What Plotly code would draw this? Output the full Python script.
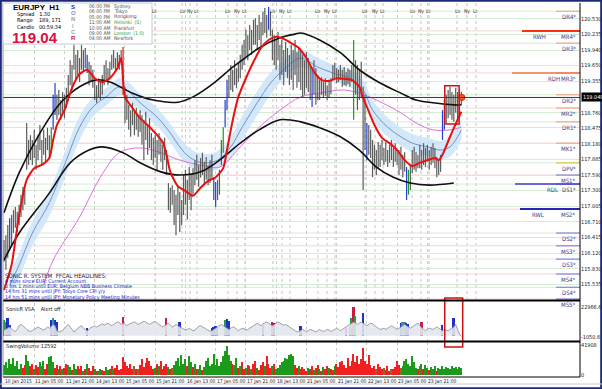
import plotly.graph_objects as go

# ---------------- DATA ----------------
bar_high = [
116.37,116.46,116.65,116.78,116.84,116.93,116.99,116.90,117.03,117.22,
117.37,117.31,118.57,118.25,118.34,118.25,118.44,118.16,118.34,118.53,
118.25,118.44,118.29,118.48,118.34,118.49,119.10,119.32,119.10,119.19,
119.00,119.15,119.10,119.23,119.47,119.75,119.66,120.04,119.85,119.94,
119.79,120.04,119.94,119.98,119.85,119.72,119.66,119.57,119.38,119.28,
119.41,119.34,119.47,119.66,119.75,119.60,119.72,119.85,119.94,119.79,
119.90,119.85,119.94,120.00,119.25,119.10,118.91,118.81,118.95,118.78,
118.85,118.72,118.81,118.72,118.63,118.78,118.53,118.66,118.38,118.29,
118.34,118.25,118.38,118.25,118.16,118.29,118.06,117.44,117.35,117.40,
117.31,117.22,117.37,117.27,117.12,117.59,117.69,117.50,117.74,117.59,
117.72,117.87,117.97,117.78,117.91,118.01,117.84,117.93,117.78,117.87,
117.97,117.55,117.46,117.50,117.69,118.25,118.49,119.00,119.38,119.47,
119.66,119.57,119.75,119.60,119.72,119.85,120.04,120.13,120.32,120.22,
120.41,120.32,120.51,120.54,120.41,120.60,120.47,120.66,120.73,120.60,
120.75,120.66,120.32,120.22,120.13,120.28,120.04,120.13,119.94,120.09,
119.98,119.85,120.04,119.94,120.13,119.90,119.98,119.94,119.85,119.75,
119.90,119.79,119.66,119.57,119.75,119.60,119.47,119.38,119.43,119.34,
119.41,119.28,119.38,119.41,119.66,119.70,119.60,119.57,119.66,119.57,
119.62,119.53,119.60,119.57,119.66,120.13,119.75,119.66,119.57,119.72,
119.25,119.10,118.57,118.53,118.44,118.25,118.16,118.06,118.21,118.16,
118.25,118.10,118.21,118.06,118.16,118.25,118.10,118.19,118.06,118.06,
118.12,117.97,118.02,117.74,117.69,117.78,118.06,118.12,118.02,117.97,
118.16,118.06,118.19,118.10,118.16,118.06,118.12,118.19,118.10,117.93,
117.87,117.97,118.81,119.00,119.10,119.19,119.25,119.15,119.10,119.23,
119.15,119.19,119.15]
bar_low = [
115.96,115.81,116.03,116.18,116.28,116.50,116.60,116.52,116.65,116.80,
116.93,117.03,117.69,117.78,117.87,117.78,117.91,117.69,117.87,118.06,
117.78,117.97,117.84,118.06,117.91,118.01,118.44,118.72,118.63,118.72,
118.63,118.78,118.66,118.85,119.10,119.28,119.19,119.57,119.38,119.47,
119.34,119.57,119.53,119.60,119.51,119.28,119.34,119.23,119.00,118.95,
119.04,119.00,119.10,119.28,119.38,119.28,119.41,119.57,119.60,119.53,
119.64,119.57,119.66,119.10,118.57,118.63,118.44,118.31,118.53,118.34,
118.44,118.31,118.40,118.16,117.87,118.25,117.97,118.10,117.87,117.78,
117.91,117.69,117.97,117.84,117.69,117.87,117.59,116.93,116.88,117.03,
116.65,116.46,116.84,116.52,116.65,116.84,117.03,116.75,117.12,116.93,
117.22,117.40,117.50,117.37,117.54,117.59,117.40,117.50,117.40,117.44,
117.54,117.12,116.99,117.12,117.22,117.78,118.01,118.49,118.81,119.06,
119.19,119.15,119.28,119.23,119.34,119.41,119.57,119.66,119.79,119.75,
119.94,119.85,120.04,120.04,119.94,120.13,119.98,120.22,120.26,120.17,
120.32,120.20,119.75,119.66,119.57,119.75,119.38,119.47,119.28,119.53,
119.41,119.28,119.38,119.19,119.47,119.23,119.34,119.19,119.06,119.10,
119.23,119.15,119.00,118.87,119.10,118.91,119.00,119.00,119.10,119.04,
119.08,119.00,119.06,119.11,119.38,119.41,119.32,119.34,119.38,119.25,
119.28,119.26,119.30,119.25,119.34,118.63,119.10,118.81,119.00,119.04,
117.31,118.06,117.87,117.97,117.91,117.55,117.69,117.59,117.72,117.74,
117.87,117.78,117.84,117.74,117.82,117.87,117.74,117.84,117.78,117.59,
117.69,117.55,117.65,117.12,117.22,117.31,117.63,117.69,117.65,117.72,
117.72,117.69,117.78,117.74,117.84,117.69,117.78,117.82,117.72,117.55,
117.59,117.65,118.25,118.44,118.57,118.66,118.72,118.63,118.59,118.76,
118.63,118.72,118.91]
blue_bars = [3, 26, 27, 44, 111, 112, 117, 118, 140, 163, 192, 213, 232, 233]
green_bars = [25, 116, 185, 214]
red_bars = [63]
last_price = 119.049

# indicator lines (bar index, price)
red_x = [0,4,8,12,16,20,24,26,28,32,36,40,44,48,52,56,60,62,63,64,68,72,76,80,84,86,88,92,96,100,
         104,108,112,116,118,120,122,124,128,132,136,140,144,148,152,156,160,164,168,172,176,180,184,188,190,192,196,200,204,208,
         212,216,220,224,228,230,232,236,240,242]
red_y = [115.43,115.90,116.84,117.50,117.72,117.78,117.91,118.25,118.53,118.81,119.23,119.49,119.57,119.41,119.34,119.41,119.60,119.79,119.38,119.06,
         118.85,118.66,118.53,118.38,118.21,117.97,117.65,117.38,117.29,117.20,117.35,117.48,117.55,117.72,118.06,118.44,118.78,119.06,119.41,119.72,
         119.98,120.13,120.19,120.15,120.07,119.98,119.79,119.53,119.38,119.36,119.41,119.40,119.38,119.25,119.04,118.87,118.53,118.29,118.19,118.06,
         117.87,117.76,117.82,117.87,117.91,117.87,117.97,118.31,118.63,118.78]
blue_x = [3,8,15,24,33,40,47,54,61,65,72,81,88,93,98,105,113,120,126,134,141,148,157,166,174,183,190,195,203,210,216,224,231,236,240,242]
blue_y = [115.52,115.90,116.50,117.07,117.87,118.49,118.87,119.06,119.25,119.19,118.95,118.68,118.38,118.12,117.93,117.82,117.87,118.12,118.49,118.95,
          119.32,119.57,119.79,119.62,119.51,119.41,119.19,118.81,118.49,118.31,118.19,118.12,118.06,118.12,118.31,118.44]
band_hi = [115.75,116.12,116.72,117.30,118.10,118.70,119.05,119.22,119.41,119.36,119.12,118.85,118.55,118.30,118.10,117.99,118.04,118.30,118.70,119.17,
           119.52,119.75,119.95,119.79,119.67,119.57,119.37,119.00,118.67,118.48,118.36,118.29,118.23,118.30,118.50,118.62]
band_lo = [115.29,115.66,116.26,116.82,117.62,118.25,118.68,118.90,119.09,119.03,118.78,118.51,118.21,117.94,117.76,117.65,117.70,117.92,118.26,118.71,
           119.10,119.39,119.63,119.45,119.35,119.25,119.01,118.62,118.31,118.14,118.02,117.95,117.89,117.94,118.12,118.26]
mag_x = [21,26,40,51,61,72,82,93,104,114,125,135,146,157,167,179,188,200,210,218,227,236,242]
mag_y = [115.52,115.99,116.80,117.55,118.01,118.10,118.02,117.87,117.78,117.74,118.12,118.49,118.81,119.06,119.13,119.19,119.13,118.95,118.76,118.57,
         118.44,118.44,118.49]
ub_x = [0,8,19,30,40,49,56,68,79,92,100,111,121,126,135,146,154,157,167,178,188,199,210,218,227,238,242]
ub_y = [116.88,117.63,118.38,118.95,119.25,119.38,119.34,119.13,119.00,118.96,119.06,119.32,119.62,119.75,119.98,120.17,120.24,120.26,120.13,119.89,
        119.57,119.32,119.13,119.00,118.95,118.91,118.91]
lb_x = [0,8,24,35,45,52,63,72,83,93,104,114,125,135,146,157,167,178,188,197,206,215,225,238]
lb_y = [115.99,116.50,117.25,117.82,118.06,118.12,118.01,117.82,117.65,117.59,117.65,117.87,118.19,118.44,118.63,118.59,118.48,118.31,118.06,117.74,
        117.55,117.44,117.40,117.44]

# right-axis price ticks
tick_prices = [120.825,120.530,120.235,119.940,119.650,119.355,118.760,118.475,118.180,117.885,
               117.590,117.300,117.005,116.710,116.415,116.120,115.830,115.535,115.240]

# pivot levels
pivot_names = ["DR4*","MR4*","DR3*","MR3*","DR2*","MR2*","DR1*","MK1*","DPV*","MS1*","DS1*","MS2*","DS2*","MS3*","DS3*","MS4*","DS4*","MS5*"]
pivot_levels = [120.67,120.30,120.07,119.51,119.10,118.85,118.59,118.19,117.82,117.59,117.42,116.95,116.50,116.26,116.01,115.73,115.48,115.26]
range_names = ["RWH","RDH","RDL","RWL"]
range_levels = [120.30,119.51,117.42,116.95]

# time axis labels (bar index of each label)
time_labels = ["10 Jan 2015","11 Jan 05:00","11 Jan 21:00","14 Jan 13:00","15 Jan 05:00","15 Jan 21:00","16 Jan 13:00",
               "17 Jan 05:00","17 Jan 21:00","18 Jan 13:00","21 Jan 05:00","21 Jan 21:00","22 Jan 13:00","23 Jan 05:00","23 Jan 21:00"]
time_label_bars = [0,16,32,48,64,80,96,112,128,144,160,176,192,208,224]

# session markers (bar index)
sess_lo = [94.2,118.5,142.3,166.1,191.0,215.9,239.7]
sess_ny = [98.4,123.3,147.1,170.9,196.3,220.6,245.0]
sess_lc = [79.9,102.1,127.5,151.3,175.1,200.5,224.9,249.7]

# SonicR VSA (thousands)
vsa_k = [4.5,5,6,7,5.5,4,3.5,5,8,9, 8,6,5,4,3.5,4,5,6.5,7,6, 5,4.5,5.5,7,6,8,9,8,4,3,
         3.5,4,6,8,9,7,5,3,4,6, 7,8,6,5,4,5,6.5,7,8,7, 8,9,9.5,8.5,9,10,9,8,9,10,
         11,10.5,9,10,9,8,9,10,10.5,11, 10,9,10,11,11.5,11,10,9,10,11, 11.5,10,9,8,7,8,9,10,8.5,7,
         8,9,8,7,6,5,4.5,5,6,5, 4,4.5,6,7.5,8,7,6,5.5,4,3.5, 4,5,6,7,8,9,8,7,6,5,
         6,7,6.5,5,4,5,6,5.5,4.5,5, 6,7,8,9,10,9,8,9.5,10,11, 10,9,8,9,10,11,10,9,8.5,9,
         8,7,6,5,4,3,3.5,4.5,5,4, 3.5,4,5,4.5,4,3,4,5,4,3.5, 4,5,4.5,3.5,4,5,6,5,4,5,
         6,7,8,9,10,11,10,9,10,11, 10,9,8,9,10,9.5,8,7,6,5, 5.5,6,5,6,7,8,7,6,5,6,
         7,8,9,8,7,6,7,8,9,10, 8,6,5,4,5,6,5.5,5,6,7, 6,5,4,5,4.5,4,5,6,7,9, 5,1,-0.5]
vsa_sp_idx = [0,1,2,3,25,26,27,28,44,63,86,93,110,111,112,113,117,118,119,137,142,143,157,181,183,184,185,186,190,210,211,212,213,214,221,232,238]
vsa_sp_k = [12.5,11,14,8.5,12.5,14,12.5,11,6,15,14,11,6,7,7.8,6,12.5,13.4,11.8,8.5,11,10,7.8,6,7,14,23,16,18,10,11,11,10,9,11,8.5,14]
vsa_sp_kind = list("ggbbbtbbbrrbbbbbgbbbrbbbbgrgbbttbbrbb")

# Swing volume (thousands) and swing direction
vol_k = [14,18,10,22,16,24,12,20,8,15, 10,14,28,20,12,16,9,14,11,18, 12,20,8,15,25,27,18,10,14,9,
         12,8,10,15,14,11,7,16,9,12, 8,13,6,9,15,10,6,12,8,5, 6,9,7,5,11,7,9,12,8,10,
         14,7,9,25,18,12,10,15,9,12, 8,9,14,22,11,17,24,19,12,9, 10,15,12,20,9,13,16,11,8,10,
         14,19,24,12,28,16,22,12,26,18, 11,15,9,8,14,7,11,20,24,12, 16,30,14,22,12,18,26,34,40,28,
         20,16,14,24,10,12,18,8,10,14, 12,9,16,20,10,7,14,18,12,26, 16,10,12,15,8,10,14,18,20,24,
         22,28,30,26,14,10,12,8,11,9, 6,10,8,12,7,10,14,9,6,11, 8,13,10,9,7,12,16,11,18,20,
         14,10,24,12,20,30,18,26,15,22, 38,20,16,28,14,10,12,9,16,11, 8,10,7,12,6,9,8,11,20,14,
         10,12,20,22,15,12,26,18,10,8, 12,16,9,14,10,7,11,8,13,6, 10,9,12,8,11,10,9,12,10,11, 9,11,10]
vol_dir = list("GGGGGGGGGG" "RRGGRRGRRG" "GGRRGGGRRG" "RGRRGGRGGR" "RRGRGRRRGR" "GGRRGGRRGR"
               "RRRRRRRRRB" "RBRRRRRRRR" "GRGRRRRGRB" "GGGGGGGRGG" "RGRGGRGGGG" "GGGGGGGGGG"
               "GRGGRGRRGR" "RGRRGRRRGR" "RRGRGGGGGG" "GGGGRRGRRR" "RGRRGRRGRG" "RRGRRGRRRR"
               "RRRRRRRRRR" "RRRRRRRBRR" "RBRRRBRRRR" "BGGGGGGGGR" "GGRGGRGGGR" "GGGGGGGGGG" "GGG")

# ---------------- LAYOUT HELPERS ----------------
W, H = 602, 389
ML, MR, MT, MB = 3, 22, 3, 12
PW, PH = W - ML - MR, H - MT - MB
def xp(px): return (px - ML) / PW
def yp(py): return (H - MB - py) / PH
FONT = "Liberation Sans Narrow, DejaVu Sans Condensed, Liberation Sans, Arial, sans-serif"
FONTW = "Liberation Sans, Arial, sans-serif"

n = len(bar_high)
X0, X1 = -0.53, -0.53 + PW / 1.89
fig = go.Figure()

# light blue band and indicator lines
fig.add_trace(go.Scatter(x=blue_x, y=band_hi, mode="lines", line=dict(width=0, shape="spline"), hoverinfo="skip"))
fig.add_trace(go.Scatter(x=blue_x, y=band_lo, mode="lines", line=dict(width=0, shape="spline"),
                         fill="tonexty", fillcolor="rgba(200,226,248,0.8)", hoverinfo="skip"))
fig.add_trace(go.Scatter(x=mag_x, y=mag_y, mode="lines", line=dict(color="#e070e0", width=1, shape="spline")))
fig.add_trace(go.Scatter(x=blue_x, y=blue_y, mode="lines", line=dict(color="#7890cc", width=1, shape="spline")))

# price bars
def segs(indices):
    xs, ys = [], []
    for i in indices:
        xs += [i, i, None]
        ys += [bar_low[i], bar_high[i], None]
    return xs, ys
special = set(blue_bars) | set(green_bars) | set(red_bars)
for ids, col in [([i for i in range(n) if i not in special], "#5c5c5c"),
                 (blue_bars, "#1f3fd8"), (green_bars, "#12a012"), (red_bars, "#e01818")]:
    xs, ys = segs(ids)
    fig.add_trace(go.Scatter(x=xs, y=ys, mode="lines", line=dict(color=col, width=1.2)))

fig.add_trace(go.Scatter(x=ub_x, y=ub_y, mode="lines", line=dict(color="#101010", width=1.6, shape="spline")))
fig.add_trace(go.Scatter(x=lb_x, y=lb_y, mode="lines", line=dict(color="#101010", width=1.6, shape="spline")))
fig.add_trace(go.Scatter(x=red_x, y=red_y, mode="lines", line=dict(color="#e81010", width=2, shape="spline", smoothing=0.6)))
fig.add_trace(go.Scatter(x=[n - 0.7], y=[last_price], mode="markers",
                         marker=dict(color="#ff5a1e", size=6, line=dict(color="#c03000", width=1))))

# VSA panel
fig.add_trace(go.Scatter(x=list(range(n)), y=vsa_k, mode="lines", line=dict(color="#8a8a8a", width=0.8),
                         fill="tozeroy", fillcolor="rgba(226,230,236,0.9)", xaxis="x2", yaxis="y2"))
kind_col = {"b": "#2030c8", "g": "#20a040", "r": "#d01840", "t": "#3090a0"}
fig.add_trace(go.Bar(x=vsa_sp_idx, y=vsa_sp_k, marker=dict(color=[kind_col[k] for k in vsa_sp_kind], line=dict(width=0)),
                     width=0.9, xaxis="x2", yaxis="y2"))
# Volume panel
dir_col = {"G": "#1c9a1c", "R": "#f02020", "B": "#a0602a"}
fig.add_trace(go.Bar(x=list(range(n)), y=vol_k, marker=dict(color=[dir_col[d] for d in vol_dir], line=dict(width=0)),
                     width=0.75, xaxis="x3", yaxis="y3"))

grid_x = dict(showgrid=True, gridcolor="#cfcfcf", griddash="dot", gridwidth=1, tickvals=time_label_bars,
              showticklabels=False, ticks="", zeroline=False, range=[X0, X1], showline=False)
fig.update_layout(
    width=W, height=H, margin=dict(l=ML, r=MR, t=MT, b=MB),
    paper_bgcolor="white", plot_bgcolor="white", showlegend=False, hovermode=False, bargap=0,
    xaxis=dict(domain=[0, 1], anchor="y", **grid_x),
    xaxis2=dict(domain=[0, 1], anchor="y2", matches="x", **grid_x),
    xaxis3=dict(domain=[0, 1], anchor="y3", matches="x", **grid_x),
    yaxis=dict(domain=[yp(300), yp(3)], range=[115.241, 120.825], side="right", tickvals=tick_prices,
               ticktext=[f"{v:.3f}" for v in tick_prices], tickfont=dict(size=5.5, family=FONT, color="#202020"),
               showgrid=True, gridcolor="#d4ecd4", gridwidth=1, zeroline=False, ticks="", automargin=False),
    yaxis2=dict(domain=[yp(341), yp(303)], range=[-4.253, 26.17], side="right", tickvals=[-1.0506, 22.9666],
                ticktext=["-1050.6", "22966.6"], tickfont=dict(size=5.5, family=FONT, color="#202020"),
                showgrid=False, zeroline=False, ticks="", automargin=False),
    yaxis3=dict(domain=[0, yp(342)], range=[-2.79, 46.1], side="right", tickvals=[0, 41.908],
                ticktext=["0", "41908"], tickfont=dict(size=5.5, family=FONT, color="#202020"),
                showgrid=False, zeroline=False, ticks="", automargin=False),
)

shapes = []
anns = []
def hline_px(py, x0=3, x1=580, color="black", width=1):
    shapes.append(dict(type="line", xref="paper", yref="paper", x0=xp(x0), x1=xp(x1), y0=yp(py), y1=yp(py),
                       line=dict(color=color, width=width), layer="above"))
def text(px, py, s, size=6, color="#202020", anchor="left", bold=False, yanchor="middle", family=FONT):
    anns.append(dict(x=xp(px), y=yp(py), xref="paper", yref="paper", text=(f"<b>{s}</b>" if bold else s),
                     showarrow=False, xanchor=anchor, yanchor=yanchor, borderpad=0,
                     font=dict(size=size, color=color, family=family)))

# session vertical lines
for arr in (sess_lo, sess_ny, sess_lc):
    for s in arr:
        shapes.append(dict(type="line", xref="x", yref="paper", x0=s, x1=s, y0=yp(300), y1=yp(3),
                           line=dict(color="#c4c4c4", width=1, dash="dot"), layer="below"))
for arr, lab in ((sess_lo, "Lo"), (sess_ny, "Ny"), (sess_lc, "Lc")):
    for s in arr:
        anns.append(dict(x=s, y=yp(6), xref="x", yref="paper", text=lab, showarrow=False, xanchor="center",
                         font=dict(size=5, color="#404040", family=FONT)))

# pivot levels: pale full-width lines, short coloured ticks and labels
for name, lv in zip(pivot_names, pivot_levels):
    pale = "#f3d6d6" if name.startswith("M") else "#d4ecd4"
    shapes.append(dict(type="line", xref="paper", yref="y", x0=0, x1=1, y0=lv, y1=lv,
                       line=dict(color=pale, width=1), layer="below"))
    if name.startswith(("DR", "MR", "MK")):
        c = "#f0a888"
    elif name.startswith("DPV"):
        c = "#d4cc40"
    else:
        c = "#8484e0"
    shapes.append(dict(type="line", xref="paper", yref="y", x0=xp(556), x1=xp(580), y0=lv, y1=lv,
                       line=dict(color=c, width=1.2)))
    anns.append(dict(x=xp(578), y=lv, xref="paper", yref="y", text=name, showarrow=False, xanchor="right",
                     yanchor="top", font=dict(size=6, color="#3a3a8a", family=FONT)))
rcol = {"RWH": ("#ff3010", 2, 522, 531), "RDH": ("#f07848", 1.5, 512, 546),
        "RDL": ("#3c3cd0", 1.5, 515, 545), "RWL": ("#2626b8", 2, 520, 530)}
for name, lv in zip(range_names, range_levels):
    c, w, x0, tx = rcol[name]
    shapes.append(dict(type="line", xref="paper", yref="y", x0=xp(x0), x1=xp(580), y0=lv, y1=lv,
                       line=dict(color=c, width=w)))
    anns.append(dict(x=xp(tx), y=lv, xref="paper", yref="y", text=name, showarrow=False, xanchor="left",
                     yanchor="top", font=dict(size=6, color="#3a3a8a", family=FONT)))

# current price line and label
shapes.append(dict(type="line", xref="paper", yref="y", x0=0, x1=1, y0=last_price, y1=last_price,
                   line=dict(color="#383838", width=1)))
anns.append(dict(x=xp(581), y=last_price, xref="paper", yref="y", text=f"{last_price:.3f}", showarrow=False,
                 xanchor="left", yanchor="middle", bgcolor="black", borderpad=1,
                 font=dict(size=5.5, color="white", family=FONT)))

# red boxes around the last bars
box_ids = list(range(n - 9, n - 2))
shapes.append(dict(type="rect", xref="x", yref="y", x0=box_ids[0] - 0.8, x1=box_ids[-1] + 0.8,
                   y0=min(bar_low[i] for i in box_ids) - 0.02, y1=max(bar_high[i] for i in box_ids) + 0.02,
                   line=dict(color="#d01010", width=1.5)))
shapes.append(dict(type="rect", xref="x", yref="paper", x0=box_ids[0] - 0.8, x1=n - 0.3, y0=yp(347), y1=yp(298),
                   line=dict(color="#d01010", width=1.5)))

# panel separators and frame
hline_px(300.5, width=2)
hline_px(341.5, width=2)
hline_px(377, width=1)
shapes.append(dict(type="line", xref="paper", yref="paper", x0=xp(580), x1=xp(580), y0=yp(377), y1=yp(3),
                   line=dict(color="black", width=1)))
shapes.append(dict(type="line", xref="paper", yref="paper", x0=xp(3), x1=xp(3), y0=yp(377), y1=yp(3),
                   line=dict(color="#9090a0", width=1)))
shapes.append(dict(type="rect", xref="paper", yref="paper", x0=xp(0.8), x1=xp(601.2), y0=yp(388.2), y1=yp(0.8),
                   line=dict(color="#1c2a78", width=2)))
shapes.append(dict(type="line", xref="paper", yref="paper", x0=xp(0), x1=xp(602), y0=yp(384), y1=yp(384),
                   line=dict(color="#c8c8d8", width=1)))

# info box
shapes.append(dict(type="rect", xref="paper", yref="paper", x0=xp(3), x1=xp(152), y0=yp(44), y1=yp(3),
                   fillcolor="white", line=dict(color="#c8c8d8", width=1), layer="above"))
text(12, 7, "EURJPY  H1", size=8, color="black", bold=True, family=FONTW)
text(16, 14.5, "Spread   1.30", size=5.5, color="black")
text(16, 20.5, "Range    189, 171", size=5.5, color="black")
text(16, 26.5, "Candle   00:59:34", size=5.5, color="black")
text(11, 37, "119.04", size=15, color="#d8103c", bold=True, family=FONTW)
for ch, py, col in [("S", 7, "#2020d0"), ("O", 13.2, "#8a8ac8"), ("N", 19.4, "#a0a0a0"), ("I", 25.6, "#d0a0b8"),
                    ("C", 31.8, "#a0a0a0"), ("R", 38, "#d01030")]:
    text(73, py, ch, size=6, color=col, anchor="center", bold=True, family=FONTW)
times = ["06:00 PM", "06:00 PM", "05:00 PM", "11:00 AM", "10:00 AM", "09:00 AM", "04:00 AM"]
cities = ["Sydney", "Tokyo", "Hongkong", "Helsinki  (S)", "Frankfurt", "London  (1,0)", "NewYork"]
for k, (t, c) in enumerate(zip(times, cities)):
    py = 6 + k * 5.4
    text(88, py, t, size=5, color="#505050")
    text(113, py, c, size=5, color="#2a9a2a" if ("(" in c) else "#505050")

# headlines
text(4, 275, "SONIC R. SYSTEM  FFCAL HEADLINES:", size=6, color="#202040")
heads = ["0 mins since EUR: Current Account", "0 hrs 1 mins until EUR: Belgium NBB Business Climate",
         "14 hrs 31 mins until JPY: Tokyo Core CPI y/y", "14 hrs 51 mins until JPY: Monetary Policy Meeting Minutes"]
for k, h in enumerate(heads):
    text(4, 281 + k * 5.4, h, size=5.2, color="#1c1cc8")

text(5, 309, "SonicR VSA    Alert off", size=5.5, color="#202020")
text(5, 346.5, "SwingVolume 12592", size=5.5, color="#202020")

# time axis labels
for b, lab in zip(time_label_bars, time_labels):
    anns.append(dict(x=b - 0.5, y=yp(381), xref="x", yref="paper", text=lab, showarrow=False, xanchor="left",
                     yanchor="middle", font=dict(size=5, color="#202020", family=FONT)))

fig.update_layout(shapes=shapes, annotations=anns)
fig.write_html("out.html")
